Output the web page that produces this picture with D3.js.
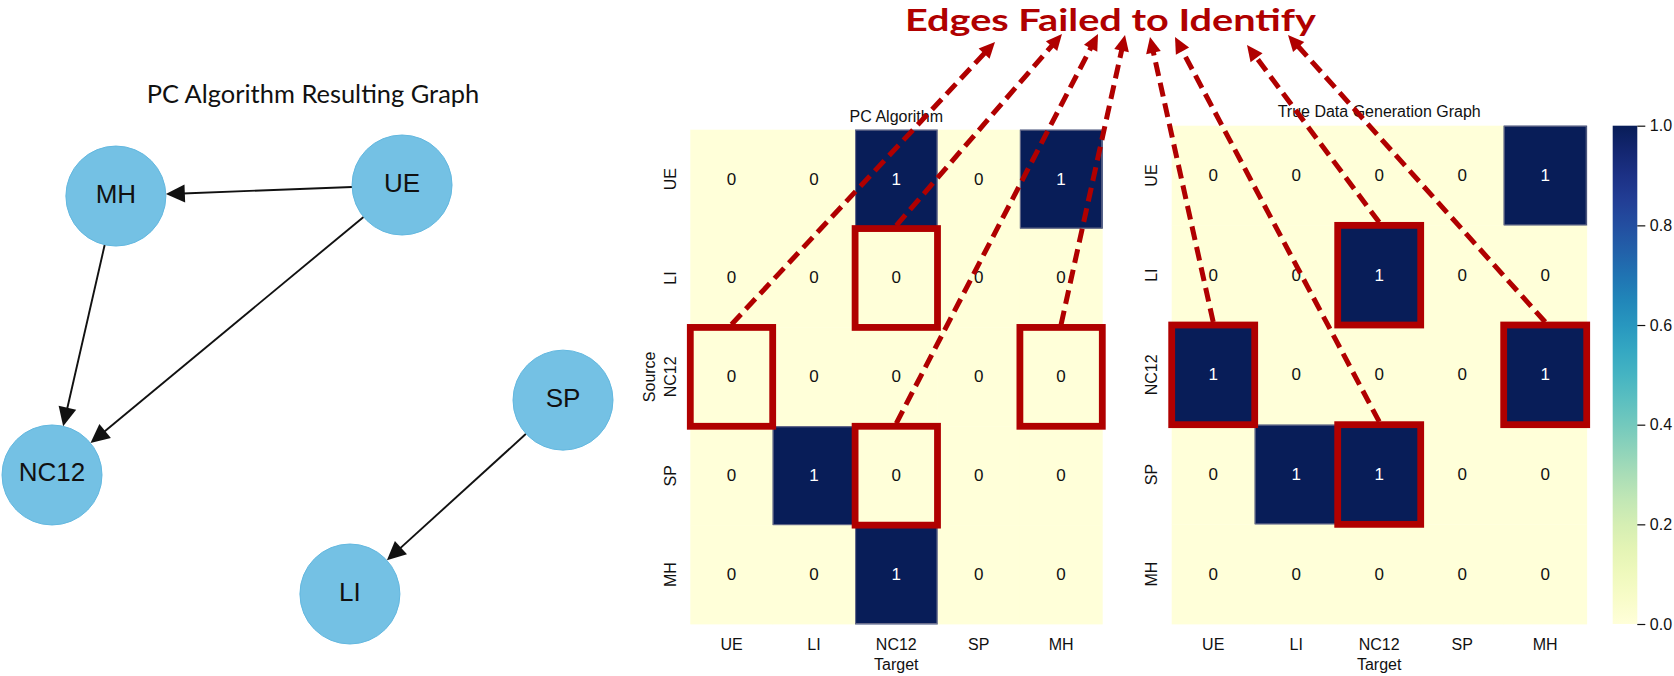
<!DOCTYPE html>
<html><head><meta charset="utf-8">
<script src="https://cdn.jsdelivr.net/npm/d3@7"></script>
<style>body{margin:0;background:#fff}svg{display:block}</style>
</head><body>
<svg id="chart" width="1674" height="676"></svg>
<script>
// ---------------- data ----------------
const labels = ["UE", "LI", "NC12", "SP", "MH"];
const pcValues = [
  [0, 0, 1, 0, 1],
  [0, 0, 0, 0, 0],
  [0, 0, 0, 0, 0],
  [0, 1, 0, 0, 0],
  [0, 0, 1, 0, 0]
];
const trueValues = [
  [0, 0, 0, 0, 1],
  [0, 0, 1, 0, 0],
  [1, 0, 0, 0, 1],
  [0, 1, 1, 0, 0],
  [0, 0, 0, 0, 0]
];
const missedEdges = [["NC12", "UE"], ["LI", "NC12"], ["SP", "NC12"], ["NC12", "MH"]];
const colorbarTicks = [0, 0.2, 0.4, 0.6, 0.8, 1.0];
const graphNodes = ["MH", "UE", "NC12", "SP", "LI"];
const graphPosX = [0.125, 0.685, 0.0, 1.0, 0.583];
const graphPosY = [0.027, 0.0, 0.709, 0.526, 1.0];
const graphEdges = [["UE", "MH"], ["UE", "NC12"], ["MH", "NC12"], ["SP", "LI"]];
const annoText = "Edges Failed to Identify";
// which highlighted cell each annotation arrow comes from: [panel, row, col]
const annoSources = [[0, "NC12", "UE"], [0, "LI", "NC12"], [0, "SP", "NC12"], [0, "NC12", "MH"],
                     [1, "NC12", "UE"], [1, "SP", "NC12"], [1, "LI", "NC12"], [1, "NC12", "MH"]];

// ---------------- layout ----------------
const RED = "#b00000";
const annoTips = [[995, 42], [1062, 34], [1098, 34], [1125, 35], [1150, 37], [1175, 37], [1247, 45], [1288, 35]];
const svg = d3.select("#chart");
svg.append("rect").attr("width", 1674).attr("height", 676).attr("fill", "#fff");
const color = d3.scaleSequential(d3.interpolateYlGnBu).domain([0, 1]);
const FONT = "'Liberation Sans', Arial, sans-serif";

// ---------------- left graph ----------------
const gx = d3.scaleLinear().domain([0, 1]).range([52, 563]);
const gy = d3.scaleLinear().domain([0, 1]).range([185, 594]);
const R = 50;
const pos = {};
graphNodes.forEach((n, i) => pos[n] = [gx(graphPosX[i]), gy(graphPosY[i])]);
const gG = svg.append("g");
gG.append("text").attr("x", 146.7).attr("y", 103.3)
  .attr("textLength", 332.6).attr("lengthAdjust", "spacingAndGlyphs")
  .attr("font-family", "Lato, 'Open Sans', sans-serif").attr("font-size", 24.5)
  .attr("fill", "#111").text("PC Algorithm Resulting Graph");

const AL = 19, AW = 9;
graphEdges.forEach(([s, t]) => {
  const [x1, y1] = pos[s], [x2, y2] = pos[t];
  const dx = x2 - x1, dy = y2 - y1, L = Math.hypot(dx, dy);
  const ux = dx / L, uy = dy / L;
  const sx = x1 + ux * R, sy = y1 + uy * R;
  const tx = x2 - ux * R, ty = y2 - uy * R;
  const bx = tx - ux * AL, by = ty - uy * AL;
  gG.append("line").attr("x1", sx).attr("y1", sy).attr("x2", bx + ux * 2).attr("y2", by + uy * 2)
    .attr("stroke", "#111").attr("stroke-width", 1.9);
  gG.append("polygon")
    .attr("points", [[tx, ty], [bx - uy * AW, by + ux * AW], [bx + uy * AW, by - ux * AW]].map(p => p.join(",")).join(" "))
    .attr("fill", "#111");
});
graphNodes.forEach(n => {
  gG.append("circle").attr("cx", pos[n][0]).attr("cy", pos[n][1]).attr("r", R)
    .attr("fill", "#74c1e4").attr("stroke", "#63b8e0").attr("stroke-width", 1);
  gG.append("text").attr("x", pos[n][0]).attr("y", pos[n][1] - 2.5)
    .attr("text-anchor", "middle").attr("dominant-baseline", "central")
    .attr("font-family", FONT).attr("font-size", 26).attr("fill", "#111").text(n);
});

// ---------------- heatmaps ----------------
const panels = [
  { title: "PC Algorithm", values: pcValues, x0: 690.3, x1: 1102.3, y0: 129.7, y1: 624, titleY: 121.7, source: true },
  { title: "True Data Generation Graph", values: trueValues, x0: 1171.7, x1: 1586.7, y0: 125.7, y1: 624, titleY: 117.3, source: false }
];
panels.forEach(p => {
  p.xs = d3.scaleBand().domain(labels).range([p.x0, p.x1]);
  p.ys = d3.scaleBand().domain(labels).range([p.y0, p.y1]);
  const g = svg.append("g");
  const cells = labels.flatMap((r, i) => labels.map((c, j) => ({ r, c, v: p.values[i][j] })));
  g.selectAll("rect.cell").data(cells).join("rect").attr("class", "cell")
    .attr("x", d => p.xs(d.c)).attr("y", d => p.ys(d.r))
    .attr("width", p.xs.bandwidth() + 0.4).attr("height", p.ys.bandwidth() + 0.4)
    .attr("fill", d => color(d.v));
  g.selectAll("rect.edge").data(cells.filter(d => d.v > 0.5)).join("rect").attr("class", "edge")
    .attr("x", d => p.xs(d.c) + 0.5).attr("y", d => p.ys(d.r) + 0.5)
    .attr("width", p.xs.bandwidth() - 1).attr("height", p.ys.bandwidth() - 1)
    .attr("fill", "none").attr("stroke", "#6a6e8c").attr("stroke-width", 1);
  g.selectAll("text.val").data(cells).join("text").attr("class", "val")
    .attr("x", d => p.xs(d.c) + p.xs.bandwidth() / 2)
    .attr("y", d => p.ys(d.r) + p.ys.bandwidth() / 2)
    .attr("text-anchor", "middle").attr("dominant-baseline", "central")
    .attr("font-family", FONT).attr("font-size", 17)
    .attr("fill", d => d.v > 0.5 ? "#fff" : "#111").text(d => d.v);

  const xa = g.append("g").attr("transform", `translate(0,${p.y1})`)
    .call(d3.axisBottom(p.xs).tickSize(0).tickPadding(14.6));
  xa.select(".domain").remove();
  xa.selectAll("text").attr("font-family", FONT).attr("font-size", 16).attr("fill", "#111");
  const ya = g.append("g").attr("transform", `translate(${p.x0},0)`)
    .call(d3.axisLeft(p.ys).tickSize(0));
  ya.select(".domain").remove();
  ya.selectAll("text").attr("transform", "rotate(-90)").attr("x", 0).attr("y", -20.3)
    .attr("dy", null).attr("text-anchor", "middle").attr("dominant-baseline", "central")
    .attr("font-family", FONT).attr("font-size", 16).attr("fill", "#111");

  g.append("text").attr("x", (p.x0 + p.x1) / 2).attr("y", p.titleY)
    .attr("text-anchor", "middle").attr("font-family", FONT).attr("font-size", 16)
    .attr("fill", "#111").text(p.title);
  g.append("text").attr("x", (p.x0 + p.x1) / 2).attr("y", 670)
    .attr("text-anchor", "middle").attr("font-family", FONT).attr("font-size", 16)
    .attr("fill", "#111").text("Target");
  if (p.source) {
    g.append("text").attr("transform", `translate(649.3,${(p.y0 + p.y1) / 2}) rotate(-90)`)
      .attr("text-anchor", "middle").attr("dominant-baseline", "central")
      .attr("font-family", FONT).attr("font-size", 16).attr("fill", "#111").text("Source");
  }
  g.selectAll("rect.hl").data(missedEdges).join("rect").attr("class", "hl")
    .attr("x", d => p.xs(d[1])).attr("y", d => p.ys(d[0]))
    .attr("width", p.xs.bandwidth()).attr("height", p.ys.bandwidth())
    .attr("fill", "none").attr("stroke", RED).attr("stroke-width", 6.8);
});

// ---------------- colorbar ----------------
const cbX = 1612.7, cbW = 24.6;
const cs = d3.scaleLinear().domain([0, 1]).range([624, 125.7]);
const grad = svg.append("defs").append("linearGradient").attr("id", "cbgrad")
  .attr("x1", 0).attr("y1", 1).attr("x2", 0).attr("y2", 0);
d3.range(0, 1.0001, 0.05).forEach(t => grad.append("stop").attr("offset", t).attr("stop-color", color(t)));
svg.append("rect").attr("x", cbX).attr("y", cs(1)).attr("width", cbW).attr("height", cs(0) - cs(1))
  .attr("fill", "url(#cbgrad)");
const ca = svg.append("g").attr("transform", `translate(${cbX + cbW},0)`)
  .call(d3.axisRight(cs).tickValues(colorbarTicks).tickFormat(d3.format(".1f")).tickSize(8).tickPadding(4.5));
ca.select(".domain").remove();
ca.selectAll("line").attr("stroke", "#111").attr("stroke-width", 1.2);
ca.selectAll("text").attr("font-family", FONT).attr("font-size", 16).attr("fill", "#111");

// ---------------- annotation ----------------
const ann = svg.append("g");
ann.append("text").attr("x", 905).attr("y", 30.7)
  .attr("textLength", 411).attr("lengthAdjust", "spacingAndGlyphs")
  .attr("font-family", "Lato, 'Open Sans', sans-serif").attr("font-weight", 700).attr("font-size", 31)
  .attr("fill", RED).text(annoText);
const HL = 16, HW = 7.5;
annoSources.forEach(([pi, r, c], k) => {
  const p = panels[pi];
  const sx = p.xs(c) + p.xs.bandwidth() / 2, sy = p.ys(r) - 3;
  const [tx, ty] = annoTips[k];
  const dx = tx - sx, dy = ty - sy, L = Math.hypot(dx, dy);
  const ux = dx / L, uy = dy / L;
  const bx = tx - ux * HL, by = ty - uy * HL;
  ann.append("line").attr("x1", sx).attr("y1", sy).attr("x2", bx + ux * 2).attr("y2", by + uy * 2)
    .attr("stroke", RED).attr("stroke-width", 5).attr("stroke-dasharray", "14,7");
  ann.append("polygon")
    .attr("points", [[tx, ty], [bx - uy * HW, by + ux * HW], [bx + uy * HW, by - ux * HW]].map(q => q.join(",")).join(" "))
    .attr("fill", RED);
});
</script>
</body></html>
